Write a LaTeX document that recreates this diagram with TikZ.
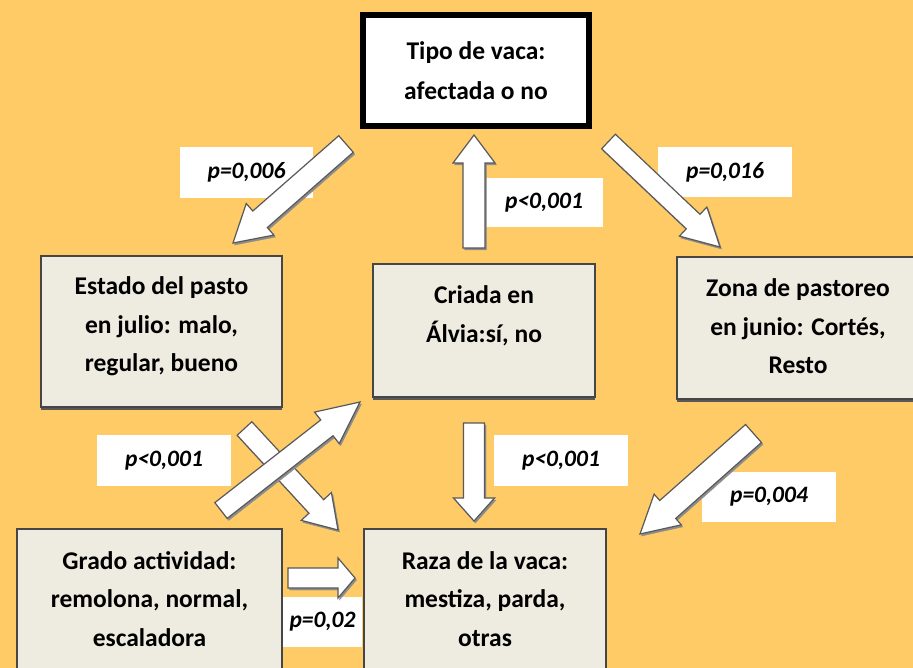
\documentclass[tikz,border=0pt]{standalone}
\usepackage{fontspec}
\setmainfont{Carlito}
\usetikzlibrary{calc,shadows}
\definecolor{bgc}{RGB}{254,203,102}
\definecolor{boxc}{RGB}{238,235,224}
\definecolor{edgec}{RGB}{70,70,70}
\newcommand\barrow[5]{%
  \coordinate (hb) at ($(#2)!#5!(#1)$);
  \draw[blk] ($(#1)!#3!90:(#2)$) -- ($(hb)!#3!90:(#2)$) -- ($(hb)!#4!90:(#2)$) -- (#2)
    -- ($(hb)!#4!-90:(#2)$) -- ($(hb)!#3!-90:(#2)$) -- ($(#1)!#3!-90:(#2)$) -- cycle;}
\tikzset{
  box/.style={draw=edgec, line width=1.3pt, fill=boxc, rectangle, inner sep=0pt,
    drop shadow={shadow xshift=0pt, shadow yshift=-3pt, fill=black!65, opacity=1}},
  btxt/.style={align=center, inner sep=0pt, font=\bfseries\fontsize{25.5}{38.5}\selectfont},
  plab/.style={fill=white, inner sep=0pt, font=\bfseries\itshape\fontsize{23.5}{26}\selectfont},
  blk/.style={draw=black!65, line width=1.2pt, fill=white, line join=miter,
    preaction={fill=black!45, draw=black!45, transform canvas={xshift=1.5pt, yshift=-2pt}}}
}
\begin{document}
\begin{tikzpicture}[x=1pt, y=-1pt]
\useasboundingbox (0,0) rectangle (913,668);
\fill[bgc] (0,0) rectangle (913,668);
% boxes
\node[draw=black, line width=6pt, fill=white, minimum width=226pt, minimum height=111pt, align=center,
  font=\bfseries\fontsize{25.5}{40}\selectfont, inner sep=0pt] (tipo) at (476,70.5) {Tipo de vaca:\\afectada o no};
\node[box, minimum width=241pt, minimum height=151pt] (estado) at (161.5,331.5) {};
\node[btxt] (estadot) at (161.5,326.5) {Estado del pasto\\en julio: malo,\\regular, bueno};
\node[box, minimum width=222pt, minimum height=133pt] (criada) at (484,330.5) {};
\node[btxt] (criadat) at (484,316) {Criada en\\Álvia:sí, no};
\node[box, minimum width=242pt, minimum height=142pt] (zona) at (798,328) {};
\node[btxt] (zonat) at (798,326.5) {Zona de pastoreo\\en junio: Cortés,\\Resto};
\node[box, minimum width=265pt, minimum height=161pt] (grado) at (149.5,609.5) {};
\node[btxt] (gradot) at (149.5,599) {Grado actividad:\\remolona, normal,\\escaladora};
\node[box, minimum width=242pt, minimum height=161pt] (raza) at (485,609.5) {};
\node[btxt] (razat) at (485,599) {Raza de la vaca:\\mestiza, parda,\\otras};
% p-value labels
\node[plab, minimum width=133pt, minimum height=51pt] (l1) at (246.5,172.5) {p=0,006};
\node[plab, minimum width=118pt, minimum height=49pt] (l2) at (544,202.5) {p<0,001};
\node[plab, minimum width=134pt, minimum height=50pt] (l3) at (725,172) {p=0,016};
\node[plab, minimum width=134pt, minimum height=51pt] (l4) at (164,460.5) {p<0,001};
\node[plab, minimum width=134pt, minimum height=51pt] (l5) at (561,460.5) {p<0,001};
\node[plab, minimum width=134pt, minimum height=50pt] (l6) at (769,497) {p=0,004};
\node[plab, minimum width=79pt, minimum height=50pt] (l7) at (322.5,622) {p=0,02};
% arrow end points
\coordinate (a1s) at (346,144);   \coordinate (a1e) at (233,243);
\coordinate (a2s) at (474,248);   \coordinate (a2e) at (474,135);
\coordinate (a3s) at (608.5,141.5); \coordinate (a3e) at (720,247);
\coordinate (a4s) at (753.5,433.5); \coordinate (a4e) at (640,534);
\coordinate (a5s) at (474,423);   \coordinate (a5e) at (474,521);
\coordinate (a6s) at (244.5,428.5); \coordinate (a6e) at (338,530);
\coordinate (a7s) at (221,510.5); \coordinate (a7e) at (360,402);
\coordinate (a8s) at (288,578);   \coordinate (a8e) at (355,578);
% block arrows
\barrow{a1s}{a1e}{11pt}{21pt}{36pt}
\barrow{a2s}{a2e}{11pt}{21pt}{28pt}
\barrow{a3s}{a3e}{10pt}{20pt}{37pt}
\barrow{a4s}{a4e}{12pt}{20.5pt}{37pt}
\barrow{a5s}{a5e}{10.5pt}{20.5pt}{23pt}
\barrow{a6s}{a6e}{10pt}{20.5pt}{32pt}
\barrow{a7s}{a7e}{10pt}{20pt}{42pt}
\barrow{a8s}{a8e}{10pt}{20pt}{17pt}
\end{tikzpicture}
\end{document}
